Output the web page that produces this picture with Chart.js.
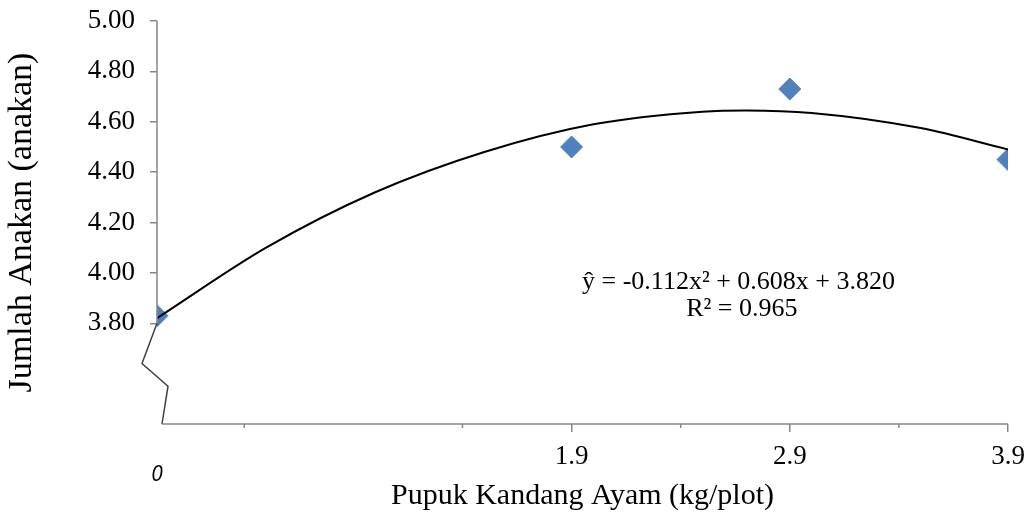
<!DOCTYPE html>
<html>
<head>
<meta charset="utf-8">
<script src="https://cdn.jsdelivr.net/npm/chart.js@4.4.1/dist/chart.umd.min.js"></script>
<style>
  body { margin: 0; background: #fff; }
  #wrap { width: 1025px; height: 514px; }
</style>
</head>
<body>
<div id="wrap"><canvas id="chart" width="1025" height="514"></canvas></div>
<script>
// pupuk kandang ayam (kg/plot) vs jumlah anakan
const doseValues = [0, 1.9, 2.9, 3.9]
const tillerValues = [3.83, 4.50, 4.73, 4.45]

// trendline
const trendX = [0, 0.5, 1.0, 1.5, 2.0, 2.5, 2.7, 3.0, 3.5, 3.9]
const trendY = [3.82, 4.10, 4.32, 4.48, 4.59, 4.64, 4.645, 4.635, 4.575, 4.49]

const xTickValues = [0, 0.4, 1.4, 1.9, 2.4, 2.9, 3.4, 3.9]
const xTickLabels = ['0', '', '', '1.9', '', '2.9', '', '3.9']
const yTickValues = [3.8, 4.0, 4.2, 4.4, 4.6, 4.8, 5.0]

const equationText = 'ŷ = -0.112x² + 0.608x + 3.820'
const rSquaredText = 'R² = 0.965'

const serif = '"Liberation Serif", "Times New Roman", serif'
const axisGray = '#868686'

const axisBreak = {
  id: 'axisBreak',
  afterDraw(chart) {
    const { ctx } = chart
    const x = chart.scales.x
    const y = chart.scales.y
    const x0 = x.getPixelForValue(0)
    const top = y.getPixelForValue(5.0)
    const low = y.getPixelForValue(3.8)
    const bottom = y.getPixelForValue(3.4)
    ctx.save()
    ctx.lineWidth = 1.5
    ctx.strokeStyle = axisGray
    ctx.beginPath()
    ctx.moveTo(x0, top)
    ctx.lineTo(x0, low)
    ctx.stroke()
    // break mark
    ctx.strokeStyle = '#404040'
    ctx.beginPath()
    ctx.moveTo(x0, low)
    ctx.lineTo(x0 - 15, y.getPixelForValue(3.64))
    ctx.lineTo(x0 + 11, y.getPixelForValue(3.55))
    ctx.lineTo(x0 + 5, bottom)
    ctx.stroke()
    ctx.strokeStyle = axisGray
    ctx.beginPath()
    ctx.moveTo(x0 + 5, bottom)
    ctx.lineTo(x.getPixelForValue(3.9), bottom)
    ctx.stroke()
    // minor ticks on x
    xTickValues.forEach((v, i) => {
      if (v === 0 || xTickLabels[i] !== '') return
      const px = x.getPixelForValue(v)
      ctx.beginPath()
      ctx.moveTo(px, bottom)
      ctx.lineTo(px, bottom + 4)
      ctx.stroke()
    })
    // trendline equation
    ctx.fillStyle = '#000'
    ctx.font = '26px ' + serif
    ctx.textAlign = 'center'
    ctx.textBaseline = 'middle'
    ctx.fillText(equationText, x.getPixelForValue(2.665), y.getPixelForValue(3.965))
    ctx.fillText(rSquaredText, x.getPixelForValue(2.68), y.getPixelForValue(3.855))
    ctx.restore()
  }
}

new Chart(document.getElementById('chart'), {
  type: 'scatter',
  data: {
    datasets: [
      {
        label: 'Trend',
        type: 'line',
        data: trendX.map((v, i) => ({ x: v, y: trendY[i] })),
        borderColor: '#000',
        borderWidth: 2,
        pointRadius: 0,
        cubicInterpolationMode: 'monotone',
        fill: false
      },
      {
        label: 'Jumlah Anakan',
        data: doseValues.map((v, i) => ({ x: v, y: tillerValues[i] })),
        pointStyle: 'rectRot',
        pointRadius: 11,
        pointHoverRadius: 11,
        backgroundColor: '#4F81BD',
        borderColor: '#4F81BD',
        borderWidth: 1
      }
    ]
  },
  options: {
    responsive: false,
    devicePixelRatio: 1,
    animation: false,
    layout: {
      autoPadding: false,
      padding: { left: 0, right: 17, top: 21, bottom: 0 }
    },
    plugins: {
      legend: { display: false },
      tooltip: { enabled: false }
    },
    scales: {
      x: {
        type: 'linear',
        min: 0,
        max: 3.9,
        afterBuildTicks: s => { s.ticks = xTickValues.map(v => ({ value: v })) },
        afterFit: s => {
          s.height = 90
          s.paddingLeft = 0
          s.paddingRight = 0
        },
        border: { display: false },
        grid: {
          drawOnChartArea: false,
          tickLength: 8,
          lineWidth: 1.5,
          color: ctx => (ctx.tick && xTickLabels[xTickValues.indexOf(ctx.tick.value)] !== '' && ctx.tick.value !== 0) ? axisGray : 'rgba(0,0,0,0)'
        },
        ticks: {
          autoSkip: false,
          maxRotation: 0,
          padding: 9,
          color: '#000',
          font: ctx => ctx.tick && ctx.tick.value === 0
            ? { family: '"Open Sans", sans-serif', style: 'italic', size: 21, lineHeight: '68px' }
            : { family: serif, size: 27, lineHeight: '32px' },
          callback: (v) => {
            const i = xTickValues.indexOf(v)
            return i >= 0 ? xTickLabels[i] : ''
          }
        },
        title: {
          display: true,
          text: 'Pupuk Kandang Ayam (kg/plot)',
          color: '#000',
          font: { family: serif, size: 30 },
          padding: { top: 0, bottom: 0 }
        }
      },
      y: {
        type: 'linear',
        min: 3.4,
        max: 5.0,
        afterBuildTicks: s => { s.ticks = yTickValues.map(v => ({ value: v })) },
        afterFit: s => {
          s.width = 157
          s.paddingTop = 0
          s.paddingBottom = 0
        },
        border: { display: false },
        grid: {
          drawOnChartArea: false,
          tickLength: 7,
          lineWidth: 1.5,
          color: axisGray
        },
        ticks: {
          padding: 15,
          color: '#000',
          font: { family: serif, size: 27 },
          callback: v => v.toFixed(2)
        },
        title: {
          display: true,
          text: 'Jumlah Anakan (anakan)',
          color: '#000',
          font: { family: serif, size: 34 },
          padding: { top: 2, bottom: 0 }
        }
      }
    }
  },
  plugins: [axisBreak]
})
</script>
</body>
</html>
